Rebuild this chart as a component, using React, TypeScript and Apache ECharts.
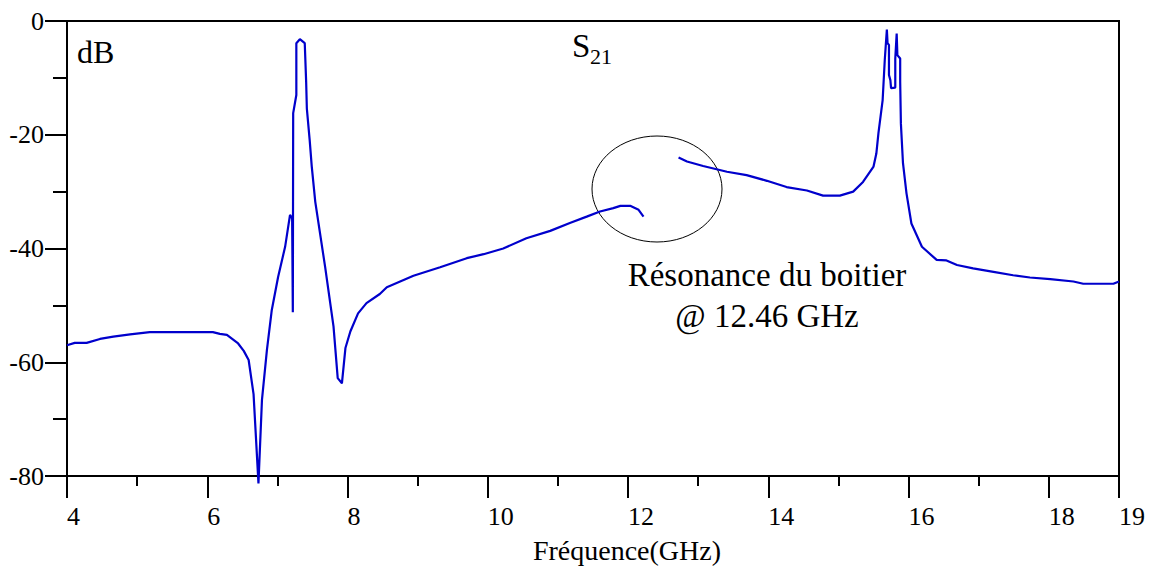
import React, { useEffect, useRef } from "react";
import * as echarts from "echarts";

// Frequency (GHz) / S21 (dB), segment before the package resonance
const freqA = [
  4.0, 4.11, 4.28, 4.47, 4.66, 4.9, 5.18, 6.08, 6.18, 6.28, 6.44, 6.52, 6.59, 6.66, 6.73, 6.78,
  6.85, 6.92, 7.01, 7.11, 7.18, 7.21, 7.22, 7.225, 7.27, 7.27, 7.32, 7.39, 7.41, 7.42, 7.46,
  7.49, 7.54, 7.68, 7.8, 7.86, 7.92, 7.97, 8.04, 8.15, 8.27, 8.46, 8.56, 8.75, 8.94, 9.32,
  9.7, 9.94, 10.22, 10.55, 10.89, 11.17, 11.41, 11.6, 11.79, 11.89, 12.03, 12.15, 12.22,
];
const dbA = [
  -57.0, -56.6, -56.6, -55.9, -55.5, -55.1, -54.7, -54.7, -55.0, -55.2, -56.7, -58.0, -59.6,
  -65.6, -81.3, -66.6, -57.9, -50.8, -45.0, -39.7, -34.1, -34.7, -51.2, -16.2, -13.0, -3.9,
  -3.2, -3.9, -10.7, -15.4, -20.9, -25.6, -31.8, -43.2, -53.7, -62.8, -63.7, -57.5, -54.6,
  -51.4, -49.6, -48.0, -46.8, -45.8, -44.8, -43.3, -41.7, -41.0, -40.0, -38.2, -36.9, -35.5,
  -34.4, -33.5, -32.9, -32.5, -32.5, -33.2, -34.4,
];

// Segment after the resonance
const freqB = [
  12.72, 12.84, 13.07, 13.41, 13.69, 13.98, 14.26, 14.55, 14.78, 15.02, 15.21, 15.35, 15.5,
  15.54, 15.57, 15.63, 15.66, 15.69, 15.7, 15.72, 15.72, 15.74, 15.75, 15.81, 15.81, 15.83,
  15.84, 15.84, 15.88, 15.88, 15.89, 15.92, 15.97, 16.04, 16.19, 16.4, 16.54, 16.69, 16.92,
  17.21, 17.49, 17.73, 18.02, 18.35, 18.49, 18.92, 19.0,
];
const dbB = [
  -24.0, -24.7, -25.5, -26.5, -27.1, -28.1, -29.2, -29.8, -30.7, -30.7, -30.0, -28.3, -25.6,
  -23.3, -19.7, -13.9, -6.9, -1.5, -3.9, -4.2, -9.5, -10.4, -11.8, -11.7, -6.6, -2.2, -2.2,
  -6.0, -6.6, -10.7, -18.0, -25.0, -30.3, -35.6, -39.7, -42.0, -42.1, -42.9, -43.5, -44.1,
  -44.7, -45.1, -45.4, -45.8, -46.2, -46.2, -45.8,
];

const annotationLines = ["Résonance du boitier", "@ 12.46 GHz"];
const xTitle = "Fréquence(GHz)";

const FONT = "'Liberation Serif', 'Times New Roman', serif";
const BLUE = "#0000cc";

export default function App() {
  const ref = useRef<HTMLDivElement>(null);

  useEffect(() => {
    if (!ref.current) return;
    const chart = echarts.init(ref.current, undefined, { renderer: "svg" });

    const segA = freqA.map((f, i) => [f, dbA[i]]);
    const segB = freqB.map((f, i) => [f, dbB[i]]);

    const axisLineStyle = { color: "#000", width: 2 };

    chart.setOption({
      animation: false,
      backgroundColor: "#fff",
      grid: {
        left: 67,
        right: 33,
        top: 21,
        bottom: 91,
        containLabel: false,
        show: true,
        borderColor: "#000",
        borderWidth: 2,
        backgroundColor: "transparent",
      },
      xAxis: [
        {
          type: "value",
          min: 4,
          max: 19,
          interval: 2,
          position: "bottom",
          axisLine: { show: true, onZero: false, lineStyle: axisLineStyle },
          axisTick: { show: true, length: 22, lineStyle: axisLineStyle },
          axisLabel: {
            fontFamily: FONT,
            fontSize: 26,
            color: "#000",
            margin: 27,
            align: "left",
            showMaxLabel: true,
          },
          splitLine: { show: false },
        },
        {
          type: "value",
          min: 4,
          max: 19,
          interval: 1,
          position: "bottom",
          axisLine: { show: false, onZero: false },
          axisTick: { show: true, length: 10, lineStyle: axisLineStyle },
          axisLabel: { show: false },
          splitLine: { show: false },
        },
      ],
      yAxis: [
        {
          type: "value",
          min: -80,
          max: 0,
          interval: 20,
          position: "left",
          axisLine: { show: true, onZero: false, lineStyle: axisLineStyle },
          axisTick: { show: true, length: 22, lineStyle: axisLineStyle },
          axisLabel: { fontFamily: FONT, fontSize: 26, color: "#000", margin: 23 },
          splitLine: { show: false },
        },
        {
          type: "value",
          min: -80,
          max: 0,
          interval: 10,
          position: "left",
          axisLine: { show: false, onZero: false },
          axisTick: { show: true, length: 14, lineStyle: axisLineStyle },
          axisLabel: { show: false },
          splitLine: { show: false },
        },
      ],
      series: [
        {
          type: "line",
          xAxisIndex: 0,
          yAxisIndex: 0,
          data: segA,
          showSymbol: false,
          symbol: "none",
          clip: false,
          lineStyle: { color: BLUE, width: 2.2 },
        },
        {
          type: "line",
          xAxisIndex: 0,
          yAxisIndex: 0,
          data: segB,
          showSymbol: false,
          symbol: "none",
          clip: false,
          lineStyle: { color: BLUE, width: 2.2 },
        },
      ],
      graphic: [
        {
          type: "text",
          x: 77,
          y: 52,
          style: { text: "dB", font: `32px ${FONT}`, fill: "#000", textAlign: "left", textVerticalAlign: "middle" },
        },
        {
          type: "text",
          x: 572,
          y: 46,
          style: { text: "S", font: `33px ${FONT}`, fill: "#000", textAlign: "left", textVerticalAlign: "middle" },
        },
        {
          type: "text",
          x: 590,
          y: 56,
          style: { text: "21", font: `22px ${FONT}`, fill: "#000", textAlign: "left", textVerticalAlign: "middle" },
        },
        {
          type: "ellipse",
          shape: { cx: 657, cy: 189, rx: 65, ry: 53 },
          style: { fill: "none", stroke: "#000", lineWidth: 1 },
        },
        {
          type: "text",
          x: 767,
          y: 275,
          style: {
            text: annotationLines[0],
            font: `33px ${FONT}`,
            fill: "#000",
            textAlign: "center",
            textVerticalAlign: "middle",
          },
        },
        {
          type: "text",
          x: 767,
          y: 316,
          style: {
            text: annotationLines[1],
            font: `33px ${FONT}`,
            fill: "#000",
            textAlign: "center",
            textVerticalAlign: "middle",
          },
        },
        {
          type: "text",
          x: 627,
          y: 550,
          style: { text: xTitle, font: `28px ${FONT}`, fill: "#000", textAlign: "center", textVerticalAlign: "middle" },
        },
      ],
    });

    return () => chart.dispose();
  }, []);

  return (
    <div
      ref={ref}
      style={{ position: "absolute", left: 0, top: 0, width: 1152, height: 567 }}
    />
  );
}
